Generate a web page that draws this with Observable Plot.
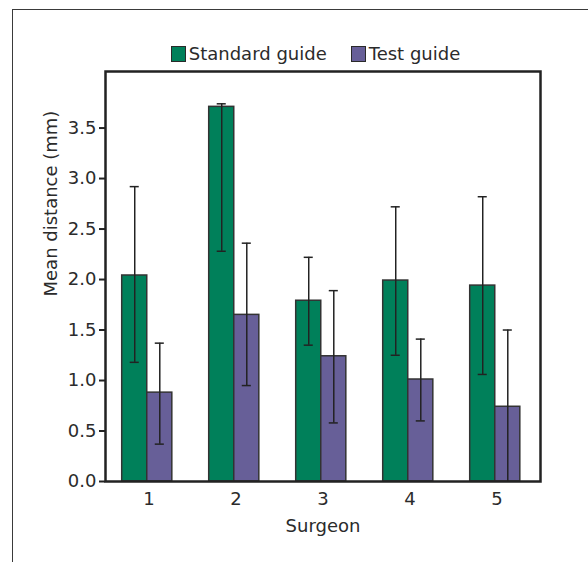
<!DOCTYPE html>
<html>
<head>
<meta charset="utf-8">
<script src="https://cdn.jsdelivr.net/npm/d3@7"></script>
<script src="https://cdn.jsdelivr.net/npm/@observablehq/plot@0.6"></script>
<style>
  html, body { margin: 0; padding: 0; background: #fff; }
  body { width: 588px; height: 562px; position: relative; overflow: hidden; font-family: "DejaVu Sans", sans-serif; color: #2b2b2b; }
  #border { position: absolute; left: 12px; top: 9px; width: 576px; height: 553px; box-sizing: border-box; border-top: 1.5px solid #3a3a3a; border-left: 1.5px solid #3a3a3a; }
  #legend { position: absolute; left: 0; top: 43px; width: 631px; display: flex; justify-content: center; align-items: center; gap: 24px; font-family: "DejaVu Sans", sans-serif; font-size: 18px; color: #2b2b2b; }
  #legend .item { display: flex; align-items: center; gap: 3px; }
  #legend .sw { width: 15px; height: 16px; box-sizing: border-box; border: 1.5px solid #2a2a2a; }
  #chart { position: absolute; left: 0; top: 62px; }
</style>
</head>
<body>
<div id="border"></div>
<div id="legend"></div>
<div id="chart"></div>
<script>
// ---- data ----
const surgeons = [1, 2, 3, 4, 5];
const guides = ["Standard guide", "Test guide"];
const colors = ["#00805a", "#675f98"];
const standardMean = [2.04, 3.71, 1.79, 1.99, 1.94];
const standardLow  = [1.18, 2.28, 1.35, 1.25, 1.06];
const standardHigh = [2.92, 3.74, 2.22, 2.72, 2.82];
const testMean = [0.88, 1.65, 1.24, 1.01, 0.74];
const testLow  = [0.37, 0.95, 0.58, 0.60, 0.00];
const testHigh = [1.37, 2.36, 1.89, 1.41, 1.50];
const yTicks = [0, 0.5, 1.0, 1.5, 2.0, 2.5, 3.0, 3.5];
const xLabel = "Surgeon";
const yLabel = "Mean distance (mm)";

// ---- table built from the arrays ----
const rows = surgeons.flatMap((s, i) => [
  {surgeon: s, guide: guides[0], mean: standardMean[i], low: standardLow[i], high: standardHigh[i]},
  {surgeon: s, guide: guides[1], mean: testMean[i], low: testLow[i], high: testHigh[i]}
]);

const w = 0.288;      // bar width in surgeon units
const cap = 0.052;    // half-width of error caps
const shift = -0.02;  // small leftward shift of each bar pair
const side = d => d.guide === guides[0] ? -1 : 0;
const left = d => d.surgeon + shift + side(d) * w;
const right = d => d.surgeon + shift + (side(d) + 1) * w;
const mid = d => d.surgeon + shift + (side(d) + 0.5) * w;

// legend
const legend = document.getElementById("legend");
guides.forEach((g, i) => {
  const it = document.createElement("div");
  it.className = "item";
  const sw = document.createElement("div");
  sw.className = "sw";
  sw.style.background = colors[i];
  const t = document.createElement("span");
  t.textContent = g;
  it.append(sw, t);
  legend.append(it);
});

const ink = "#2b2b2b";
const chart = Plot.plot({
  width: 588,
  height: 490,
  marginTop: 9,
  marginLeft: 105,
  marginRight: 48,
  marginBottom: 71,
  style: {fontFamily: "DejaVu Sans, sans-serif", fontSize: "18px", color: ink, background: "transparent"},
  x: {type: "linear", domain: [0.5, 5.5]},
  y: {domain: [0, 4.06]},
  color: {domain: guides, range: colors},
  marks: [
    Plot.rectY(rows, {x1: left, x2: right, y1: 0, y2: "mean", fill: "guide", stroke: "#333", strokeWidth: 1.5}),
    Plot.ruleX(rows, {x: mid, y1: "low", y2: "high", stroke: "#222", strokeWidth: 1.5}),
    Plot.ruleY(rows, {y: "high", x1: d => mid(d) - cap, x2: d => mid(d) + cap, stroke: "#222", strokeWidth: 1.5}),
    Plot.ruleY(rows.filter(d => d.low > 0), {y: "low", x1: d => mid(d) - cap, x2: d => mid(d) + cap, stroke: "#222", strokeWidth: 1.5}),
    Plot.axisY({ticks: yTicks, tickFormat: d3.format(".1f"), tickSize: 6, tickPadding: 3, strokeWidth: 2, stroke: "#222", label: null, fill: ink}),
    Plot.axisX({ticks: surgeons, tickFormat: d3.format("d"), tickSize: 0, tickPadding: 11, label: null, fill: ink}),
    Plot.text([xLabel], {text: d => d, frameAnchor: "bottom", dy: 50, fill: ink, fontSize: 18}),
    Plot.text([yLabel], {text: d => d, frameAnchor: "left", rotate: -90, dx: -54, dy: 20, fill: ink, fontSize: 18}),
    Plot.frame({stroke: "#222", strokeWidth: 2.5})
  ]
});
document.getElementById("chart").append(chart);
</script>
</body>
</html>
